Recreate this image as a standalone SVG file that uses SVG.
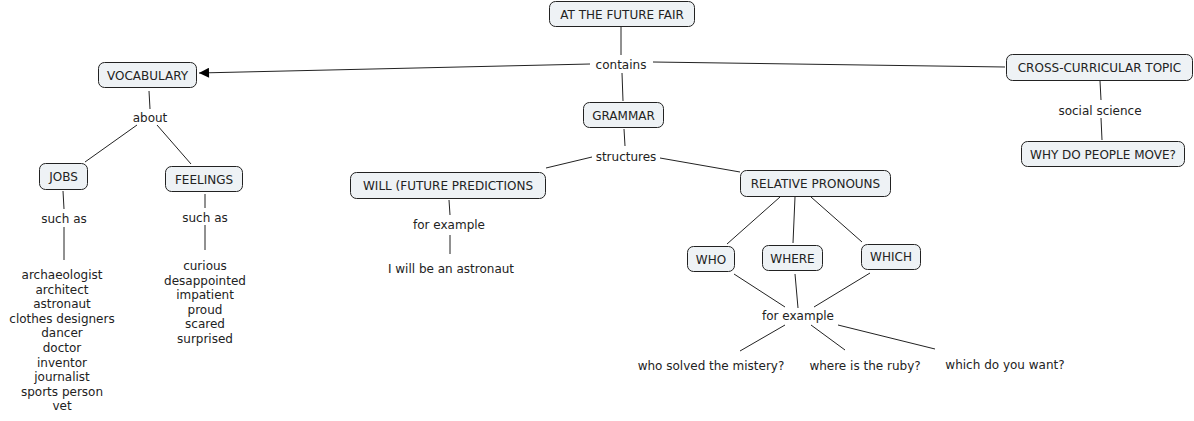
<svg xmlns="http://www.w3.org/2000/svg" width="1194" height="421" viewBox="0 0 1194 421">
<style>
text{font-family:"DejaVu Sans",Verdana,sans-serif;font-size:12px;fill:#222;text-anchor:middle;dominant-baseline:central}
.n rect{fill:#eef2f5;stroke:#222;stroke-width:1}
#connectors line{stroke:#222;stroke-width:1}
</style>
<defs>
<marker id="ah" viewBox="0 0 10 10" refX="10" refY="5" markerWidth="12" markerHeight="10" markerUnits="userSpaceOnUse" orient="auto"><path d="M0,0 L10,5 L0,10 z" fill="#000"/></marker>
</defs>
<rect width="1194" height="421" fill="#fff"/>
<g id="connectors">
<line x1="621" y1="27" x2="621" y2="55"/>
<line x1="622" y1="73" x2="623" y2="101"/>
<line x1="590" y1="64" x2="199" y2="73" marker-end="url(#ah)"/>
<line x1="653" y1="62" x2="1005" y2="67"/>
<line x1="149" y1="91" x2="150" y2="109"/>
<line x1="137" y1="125" x2="85" y2="162"/>
<line x1="157" y1="125" x2="191" y2="164"/>
<line x1="63" y1="191" x2="64" y2="209"/>
<line x1="64" y1="227" x2="64" y2="260"/>
<line x1="205" y1="194" x2="205" y2="208"/>
<line x1="205" y1="225" x2="205" y2="250"/>
<line x1="624" y1="129" x2="625" y2="146"/>
<line x1="592" y1="157" x2="546" y2="168"/>
<line x1="660" y1="158" x2="740" y2="172"/>
<line x1="449" y1="200" x2="450" y2="215"/>
<line x1="450" y1="235" x2="450" y2="254"/>
<line x1="780" y1="197" x2="727" y2="244"/>
<line x1="795" y1="197" x2="793" y2="243"/>
<line x1="811" y1="197" x2="862" y2="242"/>
<line x1="734" y1="274" x2="785" y2="307"/>
<line x1="795" y1="274" x2="798" y2="308"/>
<line x1="870" y1="273" x2="814" y2="307"/>
<line x1="785" y1="325" x2="740" y2="351"/>
<line x1="811" y1="325" x2="845" y2="350"/>
<line x1="838" y1="325" x2="935" y2="349"/>
<line x1="1100" y1="81" x2="1101" y2="100"/>
<line x1="1101" y1="118" x2="1102" y2="140"/>
</g>
<g id="fair" class="n"><rect x="549.5" y="1.5" width="145" height="25" rx="6"/><text x="622" y="14.5">AT THE FUTURE FAIR</text></g>
<g id="contains"><text x="621" y="64.5">contains</text></g>
<g id="vocabulary" class="n"><rect x="98.5" y="62.5" width="98" height="25" rx="6"/><text x="147.5" y="75.5">VOCABULARY</text></g>
<g id="cross" class="n"><rect x="1006.5" y="54.5" width="186" height="26" rx="6"/><text x="1099.5" y="68">CROSS-CURRICULAR TOPIC</text></g>
<g id="grammar" class="n"><rect x="583.5" y="102.5" width="80" height="25" rx="6"/><text x="623.5" y="115.5">GRAMMAR</text></g>
<g id="structures"><text x="626" y="156.5">structures</text></g>
<g id="will" class="n"><rect x="350.5" y="172.5" width="195" height="26" rx="6"/><text x="448" y="185.5">WILL (FUTURE PREDICTIONS</text></g>
<g id="relative" class="n"><rect x="740.5" y="170.5" width="150" height="26" rx="6"/><text x="815.5" y="184">RELATIVE PRONOUNS</text></g>
<g id="about"><text x="150" y="117.5">about</text></g>
<g id="jobs" class="n"><rect x="39.5" y="163.5" width="48" height="26" rx="6"/><text x="63.5" y="177">JOBS</text></g>
<g id="feelings" class="n"><rect x="165.5" y="166.5" width="77" height="25" rx="6"/><text x="204" y="179.5">FEELINGS</text></g>
<g id="suchas1"><text x="64" y="218.5">such as</text></g>
<g id="suchas2"><text x="205" y="217.5">such as</text></g>
<g id="jobslist">
<text x="62" y="274.5">archaeologist</text>
<text x="62" y="289.5">architect</text>
<text x="62" y="303.5">astronaut</text>
<text x="62" y="318.5">clothes designers</text>
<text x="62" y="332.5">dancer</text>
<text x="62" y="347.5">doctor</text>
<text x="62" y="362.5">inventor</text>
<text x="62" y="376.5">journalist</text>
<text x="62" y="391.5">sports person</text>
<text x="62" y="405.5">vet</text>
</g>
<g id="feelingslist">
<text x="205" y="265.5">curious</text>
<text x="205" y="280.5">desappointed</text>
<text x="205" y="294.5">impatient</text>
<text x="205" y="309.5">proud</text>
<text x="205" y="323.5">scared</text>
<text x="205" y="338.5">surprised</text>
</g>
<g id="forex1"><text x="449" y="224.5">for example</text></g>
<g id="astronaut"><text x="451" y="268.5">I will be an astronaut</text></g>
<g id="who" class="n"><rect x="687.5" y="246.5" width="47" height="25" rx="6"/><text x="711" y="259.5">WHO</text></g>
<g id="where" class="n"><rect x="762.5" y="245.5" width="60" height="25" rx="6"/><text x="792.5" y="258.5">WHERE</text></g>
<g id="which" class="n"><rect x="861.5" y="244.5" width="59" height="25" rx="6"/><text x="891" y="257">WHICH</text></g>
<g id="forex2"><text x="798" y="315.5">for example</text></g>
<g id="ex1"><text x="711" y="365.5">who solved the mistery?</text></g>
<g id="ex2"><text x="865" y="365.5">where is the ruby?</text></g>
<g id="ex3"><text x="1005" y="364.5">which do you want?</text></g>
<g id="social"><text x="1100" y="110.5">social science</text></g>
<g id="why" class="n"><rect x="1021.5" y="141.5" width="163" height="25" rx="6"/><text x="1103" y="154.5">WHY DO PEOPLE MOVE?</text></g>
</svg>
